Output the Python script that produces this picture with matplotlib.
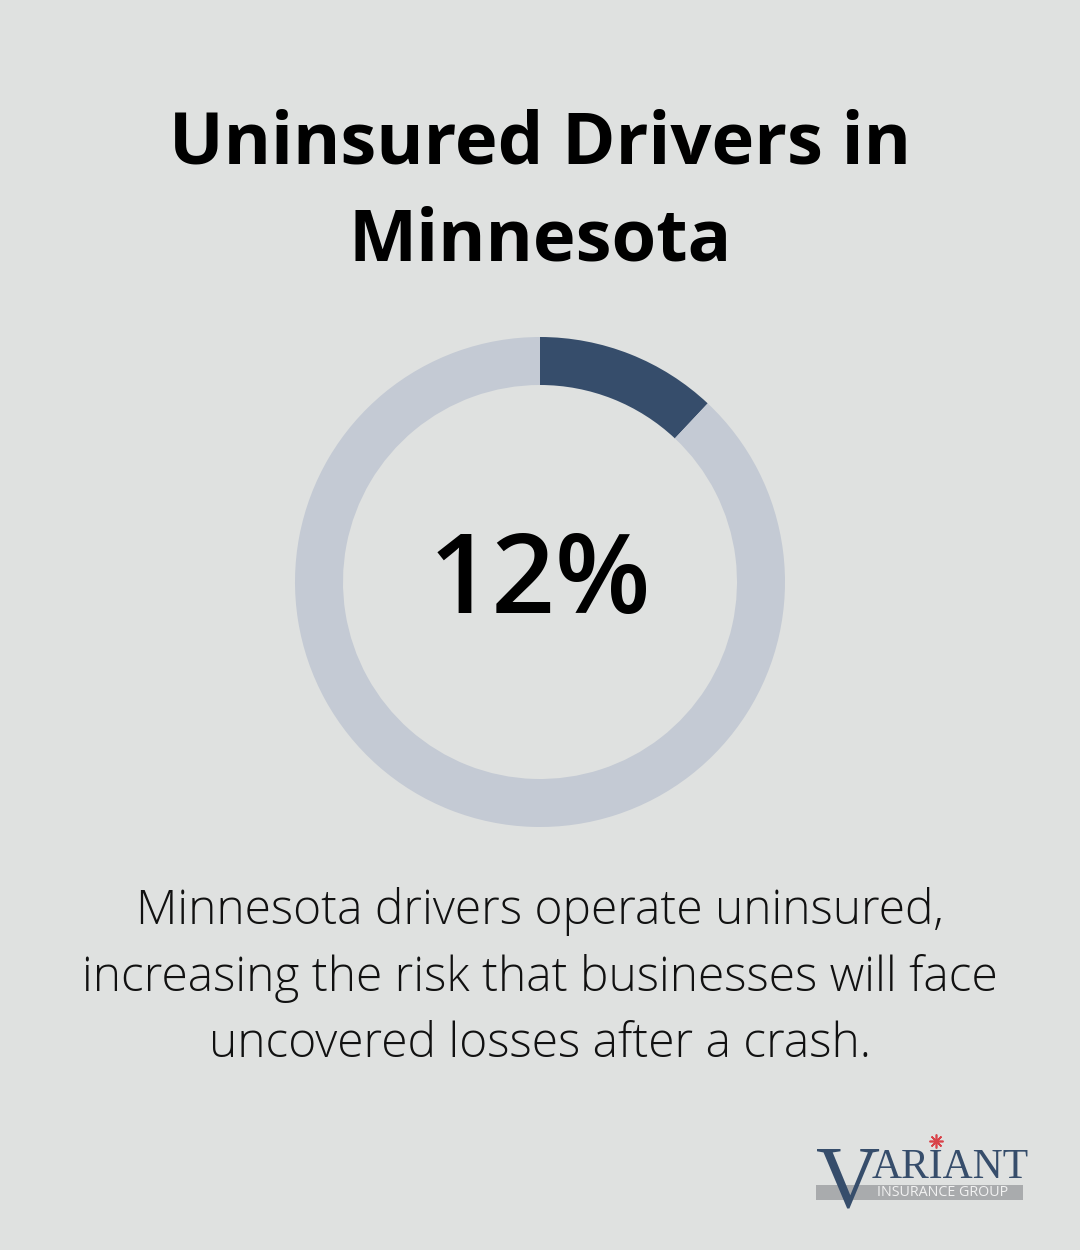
"""Donut infographic: uninsured drivers in Minnesota."""

import matplotlib

matplotlib.use("Agg")
import matplotlib.pyplot as plt  # noqa: E402
from matplotlib.patches import Rectangle  # noqa: E402

title = "Uninsured Drivers in\nMinnesota"
share_pct = 12
slice_values = [share_pct, 100 - share_pct]
slice_colors = ["#364d6b", "#c4cad4"]
caption = ("Minnesota drivers operate uninsured,\n"
           "increasing the risk that businesses will face\n"
           "uncovered losses after a crash.")

BG = "#dfe1e0"
W, H = 1080, 1250

fig = plt.figure(figsize=(W / 100, H / 100), dpi=100, facecolor=BG)

# page coordinates in pixels, y down
page = fig.add_axes([0, 0, 1, 1])
page.set_xlim(0, W)
page.set_ylim(H, 0)
page.axis("off")

page.text(540, 193, title, ha="center", va="center", fontsize=52,
          fontweight="bold", family="Open Sans", linespacing=1.45, color="#000000")

page.text(540, 978, caption, ha="center", va="center", fontsize=34.5,
          fontweight="light", family="Open Sans", linespacing=1.48, color="#111111")

# donut: center (540, 582), outer radius 245 px
r_out = 245
cx, cy = 540, 582
donut = fig.add_axes([(cx - r_out) / W, 1 - (cy + r_out) / H, 2 * r_out / W, 2 * r_out / H])
donut.pie(slice_values, colors=slice_colors, startangle=90, counterclock=False,
          radius=1.0, wedgeprops=dict(width=48 / r_out, linewidth=0))
donut.set_aspect("equal")
donut.set_xlim(-1, 1)
donut.set_ylim(-1, 1)
donut.axis("off")
donut.text(0, -0.01, f"{share_pct}%", ha="center", va="center", fontsize=80,
           fontweight="semibold", family="Open Sans", color="#000000")

# logo
page.add_patch(Rectangle((816, 1185), 207, 15, color="#a9abad", lw=0))
page.text(877, 1193, "INSURANCE GROUP", ha="left", va="center", fontsize=10.3,
          family="Open Sans", color="#f2f2f2")
page.text(816, 1206, "V", ha="left", va="baseline", fontsize=64,
          family="Liberation Serif", color="#364d6b")
page.text(872, 1178, "ARIANT", ha="left", va="baseline", fontsize=30,
          family="Liberation Serif", color="#364d6b")
page.plot([936], [1141], marker=(8, 2, 0), ms=10, mew=1.2, color="#d9434a")

fig.savefig("out.png", dpi=100, facecolor=BG)
